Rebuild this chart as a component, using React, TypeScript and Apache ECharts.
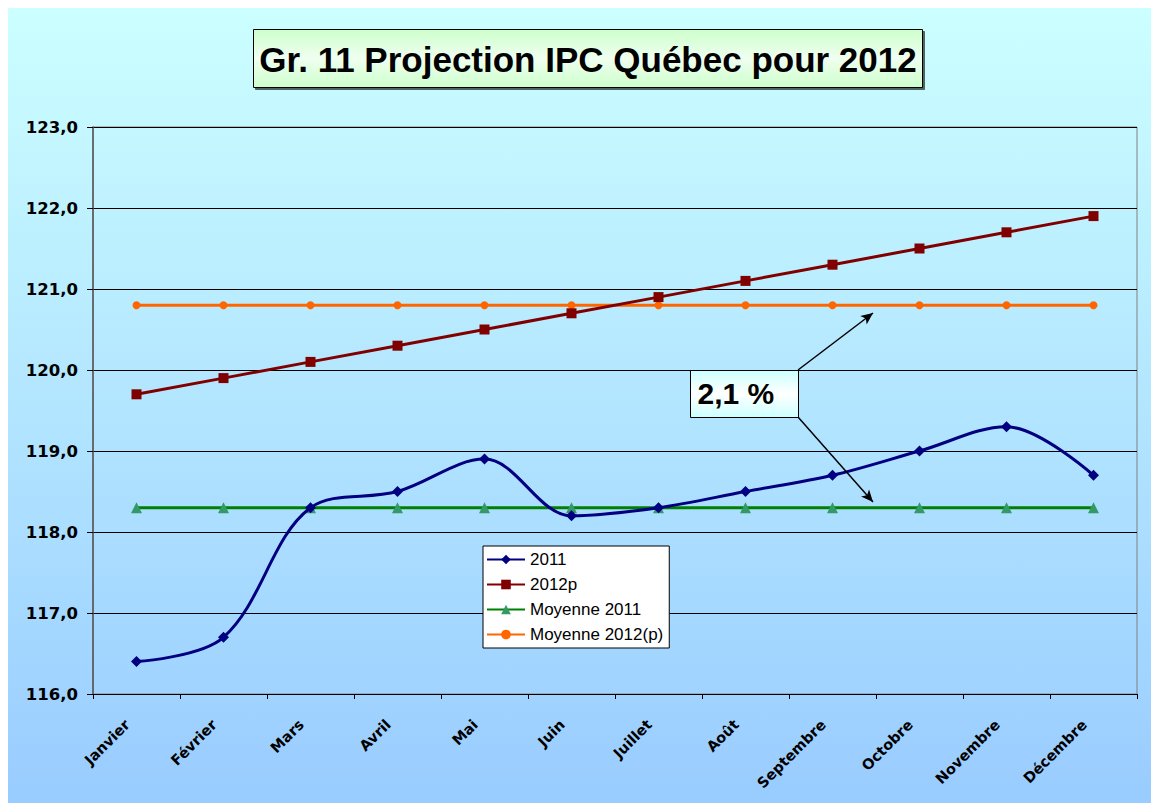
import React, { useEffect, useRef } from "react";
import * as echarts from "echarts";

const months = ["Janvier", "Février", "Mars", "Avril", "Mai", "Juin", "Juillet", "Août", "Septembre", "Octobre", "Novembre", "Décembre"];
const ipc2011 = [116.4, 116.7, 118.3, 118.5, 118.9, 118.2, 118.3, 118.5, 118.7, 119.0, 119.3, 118.7];
const ipc2012p = [119.7, 119.9, 120.1, 120.3, 120.5, 120.7, 120.9, 121.1, 121.3, 121.5, 121.7, 121.9];
const moy2011 = [118.3, 118.3, 118.3, 118.3, 118.3, 118.3, 118.3, 118.3, 118.3, 118.3, 118.3, 118.3];
const moy2012p = [120.8, 120.8, 120.8, 120.8, 120.8, 120.8, 120.8, 120.8, 120.8, 120.8, 120.8, 120.8];
const titleText = "Gr. 11 Projection IPC Québec pour 2012";
const noteText = "2,1 %";

const FONT = "'Liberation Sans', Arial, sans-serif";
const AXFONT = "'DejaVu Sans', Verdana, sans-serif";

export default function App() {
  const ref = useRef<HTMLDivElement>(null);
  useEffect(() => {
    if (!ref.current) return;
    const chart = echarts.init(ref.current, null, { renderer: "svg" });
    const arrowStyle = { color: "#000", width: 1.5, type: "solid" as const };
    chart.setOption({
      animation: false,
      backgroundColor: new echarts.graphic.LinearGradient(0, 0, 0, 1, [
        { offset: 0, color: "#ccffff" },
        { offset: 1, color: "#99ccff" },
      ]),
      textStyle: { fontFamily: FONT },
      grid: { left: 85, right: 14, top: 119, bottom: 109, show: true, borderColor: "#808080", borderWidth: 1 },
      legend: {
        orient: "vertical",
        left: 475,
        top: 538,
        backgroundColor: "#ffffff",
        borderColor: "#000000",
        borderWidth: 1,
        borderRadius: 0,
        padding: [5, 6, 5, 3],
        itemWidth: 38,
        itemHeight: 12,
        itemGap: 8,
        textStyle: { fontSize: 17, lineHeight: 17, color: "#000", fontFamily: FONT },
        data: ["2011", "2012p", "Moyenne 2011", "Moyenne 2012(p)"],
      },
      xAxis: {
        type: "category",
        data: months,
        boundaryGap: true,
        axisLine: { lineStyle: { color: "#000", width: 1 } },
        axisTick: { show: true, length: 5, lineStyle: { color: "#000" } },
        axisLabel: {
          rotate: 45,
          fontSize: 14.5,
          fontWeight: "bold",
          color: "#000",
          fontFamily: AXFONT,
          margin: 19,
          padding: [0, 13, 0, 0],
          interval: 0,
        },
      },
      yAxis: {
        type: "value",
        min: 116,
        max: 123,
        interval: 1,
        axisLine: { show: true, lineStyle: { color: "#555", width: 1.5 } },
        axisTick: { show: true, length: 6, inside: false, lineStyle: { color: "#000" } },
        axisLabel: {
          fontSize: 16.5,
          fontWeight: "bold",
          color: "#000",
          fontFamily: AXFONT,
          margin: 15,
          formatter: (v: number) => v.toFixed(1).replace(".", ","),
        },
        splitLine: { show: true, lineStyle: { color: "#000", width: 1 } },
      },
      series: [
        {
          name: "2011",
          type: "line",
          data: ipc2011,
          smooth: 0.35,
          symbol: "diamond",
          symbolSize: 11,
          lineStyle: { color: "#000080", width: 3 },
          itemStyle: { color: "#000080" },
          z: 4,
        },
        {
          name: "2012p",
          type: "line",
          data: ipc2012p,
          symbol: "rect",
          symbolSize: 10,
          lineStyle: { color: "#800000", width: 3 },
          itemStyle: { color: "#800000" },
          z: 4,
        },
        {
          name: "Moyenne 2011",
          type: "line",
          data: moy2011,
          symbol: "triangle",
          symbolSize: 11,
          lineStyle: { color: "#008000", width: 3 },
          itemStyle: { color: "#339966" },
          z: 3,
        },
        {
          name: "Moyenne 2012(p)",
          type: "line",
          data: moy2012p,
          symbol: "circle",
          symbolSize: 8,
          lineStyle: { color: "#ff6600", width: 3 },
          itemStyle: { color: "#ff6600" },
          z: 3,
          markLine: {
            silent: true,
            symbol: ["none", "arrow"],
            symbolSize: [8, 12],
            label: { show: false },
            lineStyle: arrowStyle,
            data: [
              [{ x: 790, y: 362 }, { x: 865, y: 305 }],
              [{ x: 790, y: 409 }, { x: 865, y: 494 }],
            ],
          },
        },
      ],
      graphic: [
        {
          type: "group",
          left: 245,
          top: 21,
          children: [
            {
              type: "rect",
              shape: { x: 0, y: 0, width: 669, height: 58 },
              style: {
                fill: new echarts.graphic.LinearGradient(0, 0, 0, 1, [
                  { offset: 0, color: "#ccffcc" },
                  { offset: 0.5, color: "#f0fff0" },
                  { offset: 1, color: "#ccffcc" },
                ]),
                stroke: "#000",
                lineWidth: 1,
                shadowColor: "rgba(0,0,0,0.6)",
                shadowOffsetX: 2,
                shadowOffsetY: 2,
                shadowBlur: 0,
              },
            },
            {
              type: "text",
              x: 334.5,
              y: 30,
              style: {
                text: titleText,
                font: `bold 35px ${FONT}`,
                fill: "#000",
                align: "center",
                verticalAlign: "middle",
              },
            },
          ],
        },
        {
          type: "group",
          left: 682,
          top: 362,
          z: 10,
          children: [
            {
              type: "rect",
              shape: { x: 0, y: 0, width: 108, height: 47 },
              style: {
                fill: new echarts.graphic.LinearGradient(0, 0, 0, 1, [
                  { offset: 0, color: "#ccffff" },
                  { offset: 0.5, color: "#ffffff" },
                  { offset: 1, color: "#ccffff" },
                ]),
                stroke: "#000",
                lineWidth: 1,
              },
            },
            {
              type: "text",
              x: 7,
              y: 23,
              style: {
                text: noteText,
                font: `bold 30px ${FONT}`,
                fill: "#000",
                align: "left",
                verticalAlign: "middle",
              },
            },
          ],
        },
      ],
    });
    return () => chart.dispose();
  }, []);
  return <div ref={ref} style={{ width: 1143, height: 795 }} />;
}
